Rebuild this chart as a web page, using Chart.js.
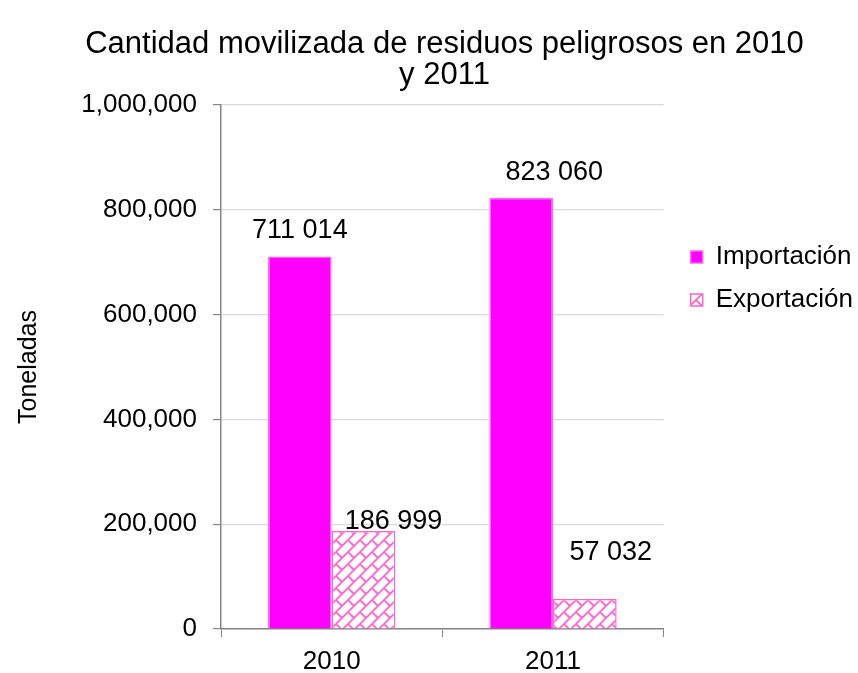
<!DOCTYPE html>
<html>
<head>
<meta charset="utf-8">
<script src="https://cdn.jsdelivr.net/npm/chart.js@4.4.1/dist/chart.umd.min.js"></script>
<style>
  html, body { margin: 0; padding: 0; background: #ffffff; }
  #wrap { width: 858px; height: 673px; position: relative; }
</style>
</head>
<body>
<div id="wrap"><canvas id="c" width="858" height="673"></canvas></div>
<script>
// ---- data ----
const categories = ['2010', '2011'];
const importacion = [711014, 823060];
const exportacion = [186999, 57032];
const seriesNames = ['Importación', 'Exportación'];
const titleLines = ['Cantidad movilizada de residuos peligrosos en 2010', 'y 2011'];
const yAxisTitle = 'Toneladas';
const yMax = 1000000;
const yStep = 200000;

// label offsets (px) relative to bar top-centre, per series
const importLabelDx = [0, 33];
const importLabelDy = [-26, -25];
const exportLabelDx = [30, 26];
const exportLabelDy = [-9, -47];

const FONT = "'Liberation Sans', Arial, sans-serif";
const PINK = '#ff66cc';
const MAGENTA = '#ff00ff';

function makeBrickPattern() {
  const s = 12;
  const c = document.createElement('canvas');
  c.width = s; c.height = s;
  const g = c.getContext('2d');
  g.fillStyle = '#ffffff';
  g.fillRect(0, 0, s, s);
  g.strokeStyle = PINK;
  g.lineWidth = 1.8;
  g.beginPath();
  g.moveTo(-2, s + 2); g.lineTo(s + 2, -2);
  g.moveTo(-2, 2); g.lineTo(2, -2);
  g.moveTo(s - 2, s + 2); g.lineTo(s + 2, s - 2);
  g.moveTo(0, 0); g.lineTo(s / 2, s / 2);
  g.moveTo(s, s); g.lineTo(s * 1.5, s * 1.5);
  g.stroke();
  const ctx = document.getElementById('c').getContext('2d');
  return ctx.createPattern(c, 'repeat');
}

const fmtSpace = v => v.toLocaleString('en-US').replace(/,/g, ' ');

const labelPlugin = {
  id: 'barLabels',
  afterDatasetsDraw(chart) {
    const ctx = chart.ctx;
    const offsets = [[importLabelDx, importLabelDy], [exportLabelDx, exportLabelDy]];
    ctx.save();
    ctx.font = '27px ' + FONT;
    ctx.fillStyle = '#000000';
    ctx.textAlign = 'center';
    ctx.textBaseline = 'middle';
    chart.data.datasets.forEach((ds, di) => {
      const meta = chart.getDatasetMeta(di);
      meta.data.forEach((bar, i) => {
        const [dx, dy] = offsets[di];
        ctx.fillText(fmtSpace(ds.data[i]), bar.x + dx[i], bar.y + dy[i]);
      });
    });
    ctx.restore();
  }
};

// nudge the legend a little to the right of its layout slot
const legendShift = {
  id: 'legendShift',
  afterLayout(chart) {
    if (chart.legend) { chart.legend.left += 10; chart.legend.right += 10; }
  }
};

const pattern = makeBrickPattern();

new Chart(document.getElementById('c'), {
  type: 'bar',
  data: {
    labels: categories,
    datasets: [
      {
        label: seriesNames[0],
        data: importacion,
        backgroundColor: MAGENTA,
        borderColor: '#ff66ee',
        borderWidth: 1.5,
        categoryPercentage: 0.575,
        barPercentage: 1.0
      },
      {
        label: seriesNames[1],
        data: exportacion,
        backgroundColor: pattern,
        borderColor: PINK,
        borderWidth: 1.5,
        categoryPercentage: 0.575,
        barPercentage: 1.0
      }
    ]
  },
  options: {
    responsive: false,
    animation: false,
    devicePixelRatio: 1,
    layout: { padding: { left: 36, right: 5, top: 0, bottom: -14 } },
    plugins: {
      title: {
        display: true,
        text: titleLines,
        color: '#000000',
        font: { family: FONT, size: 31, weight: 'normal', lineHeight: 1.0 },
        padding: { top: 29, bottom: 14 }
      },
      legend: {
        position: 'right',
        align: 'start',
        title: { display: true, text: ' ', font: { size: 12, lineHeight: 1.2 }, padding: { top: 200, bottom: 12.6 } },
        labels: {
          color: '#000000',
          font: { family: FONT, size: 26 },
          boxWidth: 12,
          boxHeight: 12,
          padding: 17
        }
      },
      tooltip: { enabled: false }
    },
    scales: {
      x: {
        grid: { display: true, drawOnChartArea: false, drawTicks: true, tickLength: 8, tickColor: '#868686', offset: true },
        border: { color: '#868686', width: 1.5 },
        ticks: { color: '#000000', font: { family: FONT, size: 26, lineHeight: 1.0 }, padding: 12 }
      },
      y: {
        min: 0,
        max: yMax,
        afterFit(scale) { scale.width = 185; },
        grid: { color: '#d9d9d9', lineWidth: 1.2, tickLength: 8, tickColor: '#868686' },
        border: { color: '#868686', width: 1.5 },
        ticks: {
          stepSize: yStep,
          color: '#000000',
          font: { family: FONT, size: 26 },
          padding: 16,
          callback: v => v.toLocaleString('en-US')
        },
        title: {
          display: true,
          text: yAxisTitle,
          color: '#000000',
          font: { family: FONT, size: 25, lineHeight: 1.2 },
          padding: { top: -22, bottom: 0 }
        }
      }
    }
  },
  plugins: [labelPlugin, legendShift]
});
</script>
</body>
</html>
